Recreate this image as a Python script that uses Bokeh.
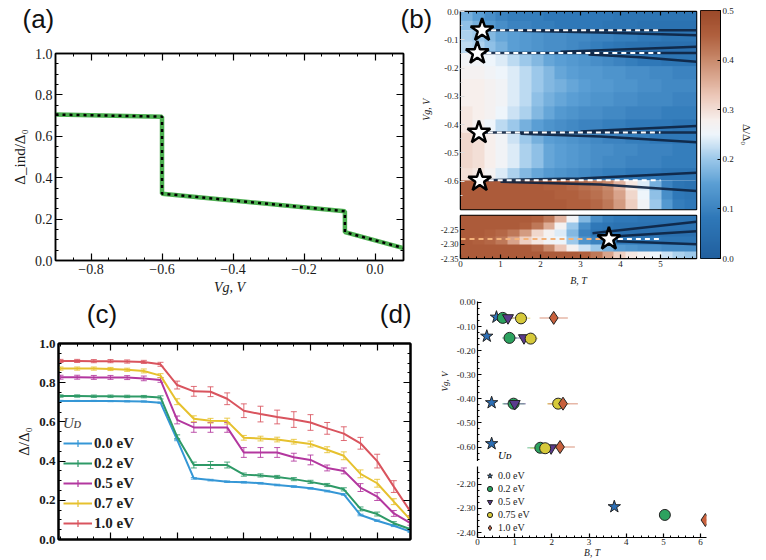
import numpy as np
from bokeh.plotting import figure
from bokeh.models import (ColumnDataSource, LinearAxis, Range1d, SingleIntervalTicker, FixedTicker,
                          Legend, LegendItem, Whisker, TeeHead, LinearColorMapper,
                          CustomJSTickFormatter)
from bokeh.layouts import row, column
from bokeh.embed import file_html
from bokeh.resources import INLINE
from bokeh.core.properties import value

SERIF = "Liberation Serif"
SANS = "Liberation Sans"

# ---------------- data ----------------
# (a) induced gap vs gate voltage
a_vg = [-0.9, -0.6, -0.6, -0.085, -0.085, 0.08]
a_gap = [0.705, 0.695, 0.323, 0.238, 0.137, 0.06]

# (b) gap map; each band: rows from top to bottom, 20 columns over B = 0 .. 5.9 T
heat_B = [0.0, 5.9]
heat_up_edges = [0.0, -0.066, -0.147, -0.428, -0.597, -0.70]
heat_band1 = [
    [0.17, 0.15, 0.12, 0.10, 0.09, 0.09, 0.09, 0.08, 0.08, 0.08, 0.08, 0.08, 0.08, 0.07, 0.07, 0.07, 0.07, 0.07, 0.07, 0.07],
    [0.19, 0.17, 0.14, 0.12, 0.10, 0.10, 0.09, 0.09, 0.08, 0.08, 0.08, 0.08, 0.07, 0.07, 0.07, 0.06, 0.06, 0.06, 0.06, 0.06],
]
heat_band2 = [
    [0.21, 0.20, 0.18, 0.16, 0.15, 0.14, 0.13, 0.12, 0.12, 0.11, 0.11, 0.10, 0.10, 0.09, 0.09, 0.08, 0.08, 0.07, 0.07, 0.07],
    [0.22, 0.21, 0.19, 0.17, 0.15, 0.14, 0.13, 0.12, 0.12, 0.11, 0.10, 0.09, 0.08, 0.07, 0.06, 0.06, 0.05, 0.05, 0.05, 0.05],
]
heat_band3 = [
    [0.26, 0.26, 0.25, 0.24, 0.22, 0.20, 0.18, 0.16, 0.15, 0.14, 0.13, 0.12, 0.11, 0.10, 0.09, 0.08, 0.08, 0.07, 0.07, 0.07],
    [0.27, 0.27, 0.26, 0.25, 0.24, 0.22, 0.20, 0.18, 0.16, 0.15, 0.14, 0.14, 0.13, 0.13, 0.12, 0.12, 0.11, 0.11, 0.10, 0.10],
    [0.28, 0.28, 0.27, 0.26, 0.24, 0.22, 0.20, 0.18, 0.17, 0.16, 0.15, 0.14, 0.14, 0.13, 0.13, 0.12, 0.12, 0.11, 0.11, 0.11],
    [0.28, 0.28, 0.27, 0.26, 0.24, 0.22, 0.19, 0.17, 0.16, 0.15, 0.14, 0.13, 0.13, 0.12, 0.12, 0.11, 0.11, 0.11, 0.10, 0.10],
    [0.29, 0.28, 0.27, 0.25, 0.23, 0.21, 0.18, 0.16, 0.14, 0.13, 0.12, 0.12, 0.11, 0.11, 0.10, 0.10, 0.10, 0.09, 0.09, 0.09],
    [0.29, 0.27, 0.25, 0.22, 0.20, 0.17, 0.15, 0.13, 0.12, 0.11, 0.10, 0.10, 0.09, 0.09, 0.08, 0.08, 0.08, 0.08, 0.07, 0.07],
]
heat_band4 = [
    [0.31, 0.30, 0.28, 0.26, 0.23, 0.20, 0.17, 0.15, 0.14, 0.13, 0.12, 0.11, 0.10, 0.10, 0.09, 0.09, 0.08, 0.08, 0.08, 0.08],
    [0.31, 0.30, 0.28, 0.26, 0.24, 0.21, 0.19, 0.16, 0.15, 0.14, 0.13, 0.12, 0.12, 0.11, 0.11, 0.10, 0.10, 0.10, 0.09, 0.09],
    [0.31, 0.30, 0.28, 0.26, 0.24, 0.21, 0.19, 0.16, 0.15, 0.14, 0.13, 0.12, 0.11, 0.11, 0.10, 0.10, 0.10, 0.09, 0.09, 0.09],
    [0.30, 0.29, 0.27, 0.24, 0.21, 0.18, 0.16, 0.14, 0.13, 0.12, 0.11, 0.10, 0.09, 0.09, 0.08, 0.08, 0.08, 0.07, 0.07, 0.07],
]
heat_band5 = [
    [0.46, 0.46, 0.46, 0.46, 0.46, 0.46, 0.46, 0.45, 0.45, 0.44, 0.43, 0.42, 0.40, 0.35, 0.29, 0.24, 0.17, 0.10, 0.07, 0.06],
    [0.46, 0.46, 0.46, 0.46, 0.46, 0.46, 0.46, 0.46, 0.45, 0.45, 0.44, 0.43, 0.41, 0.37, 0.31, 0.25, 0.19, 0.12, 0.08, 0.07],
    [0.46, 0.46, 0.46, 0.46, 0.46, 0.46, 0.46, 0.46, 0.46, 0.45, 0.45, 0.44, 0.42, 0.38, 0.32, 0.26, 0.20, 0.14, 0.09, 0.08],
]
heat_low_edges = [-2.20, -2.35]
heat_low_band = [
    [0.46, 0.46, 0.46, 0.46, 0.46, 0.46, 0.45, 0.42, 0.35, 0.26, 0.18, 0.12, 0.09, 0.08, 0.08, 0.07, 0.07, 0.07, 0.07, 0.07],
    [0.46, 0.46, 0.46, 0.46, 0.46, 0.45, 0.42, 0.36, 0.27, 0.20, 0.12, 0.08, 0.07, 0.06, 0.06, 0.06, 0.06, 0.06, 0.06, 0.06],
    [0.46, 0.46, 0.45, 0.44, 0.42, 0.38, 0.31, 0.27, 0.24, 0.18, 0.10, 0.07, 0.06, 0.05, 0.05, 0.05, 0.05, 0.05, 0.05, 0.05],
    [0.46, 0.45, 0.44, 0.42, 0.37, 0.32, 0.29, 0.26, 0.25, 0.20, 0.13, 0.10, 0.09, 0.08, 0.08, 0.08, 0.08, 0.07, 0.07, 0.07],
    [0.46, 0.46, 0.46, 0.46, 0.46, 0.46, 0.44, 0.40, 0.33, 0.27, 0.23, 0.20, 0.17, 0.14, 0.13, 0.12, 0.12, 0.11, 0.11, 0.11],
    [0.46, 0.46, 0.46, 0.46, 0.46, 0.46, 0.46, 0.46, 0.46, 0.46, 0.45, 0.42, 0.37, 0.32, 0.29, 0.27, 0.25, 0.23, 0.21, 0.20],
]

b_star_B = [0.54, 0.42, 0.46, 0.48]
b_star_V = [-0.066, -0.147, -0.428, -0.597]
b_star_low_B = [3.71]
b_star_low_V = [-2.282]
b_dash_end = 5.0

b_dark_B = [[0.55, 5.9], [1.5, 3.5, 5.9], [0.45, 5.9], [3.2, 4.5, 5.9], [2.5, 5.9],
            [0.5, 5.9], [1.5, 3.5, 5.9], [3.0, 5.9], [0.5, 3.0, 5.9], [1.0, 3.5, 5.9]]
b_dark_V = [[-0.066, -0.066], [-0.068, -0.074, -0.084], [-0.147, -0.147], [-0.152, -0.162, -0.178],
            [-0.142, -0.125], [-0.428, -0.428], [-0.432, -0.442, -0.462], [-0.424, -0.405],
            [-0.597, -0.590, -0.570], [-0.602, -0.612, -0.635]]
b_dark_low_B = [[3.3, 5.9], [3.9, 5.9], [3.9, 5.9]]
b_dark_low_V = [[-2.262, -2.222], [-2.272, -2.255], [-2.290, -2.300]]

# (c) gap vs gate voltage for several U_D
c_vg = [-0.95, -0.90, -0.85, -0.80, -0.75, -0.70, -0.65, -0.60, -0.55, -0.50, -0.45,
        -0.40, -0.35, -0.30, -0.25, -0.20, -0.15, -0.10, -0.05, 0.00, 0.05, 0.10]
c_labels = ["0.0 eV", "0.2 eV", "0.5 eV", "0.7 eV", "1.0 eV"]
c_u00 = [0.707, 0.707, 0.707, 0.706, 0.705, 0.704, 0.698, 0.508, 0.312, 0.303, 0.295,
         0.292, 0.287, 0.278, 0.270, 0.261, 0.247, 0.230, 0.125, 0.096, 0.070, 0.040]
c_u02 = [0.732, 0.732, 0.731, 0.731, 0.730, 0.729, 0.725, 0.524, 0.380, 0.380, 0.380,
         0.331, 0.327, 0.319, 0.308, 0.294, 0.278, 0.256, 0.156, 0.130, 0.083, 0.052]
c_u05 = [0.828, 0.828, 0.827, 0.827, 0.826, 0.822, 0.814, 0.610, 0.572, 0.572, 0.572,
         0.444, 0.444, 0.444, 0.420, 0.406, 0.365, 0.350, 0.265, 0.219, 0.133, 0.083]
c_u07 = [0.872, 0.872, 0.872, 0.870, 0.866, 0.860, 0.836, 0.703, 0.616, 0.606, 0.604,
         0.519, 0.515, 0.510, 0.499, 0.487, 0.458, 0.427, 0.335, 0.287, 0.193, 0.100]
c_u10 = [0.911, 0.911, 0.910, 0.910, 0.908, 0.906, 0.894, 0.788, 0.756, 0.754, 0.718,
         0.657, 0.640, 0.625, 0.612, 0.597, 0.567, 0.540, 0.491, 0.400, 0.270, 0.142]
c_e00 = [0.003, 0.003, 0.003, 0.003, 0.003, 0.003, 0.003, 0.004, 0.004, 0.004, 0.004,
         0.004, 0.004, 0.004, 0.004, 0.004, 0.004, 0.004, 0.004, 0.004, 0.004, 0.004]
c_e02 = [0.006, 0.006, 0.006, 0.006, 0.006, 0.006, 0.008, 0.010, 0.015, 0.018, 0.015,
         0.008, 0.008, 0.008, 0.008, 0.008, 0.008, 0.008, 0.010, 0.010, 0.008, 0.006]
c_e05 = [0.010, 0.010, 0.010, 0.010, 0.010, 0.012, 0.012, 0.020, 0.025, 0.025, 0.025,
         0.025, 0.025, 0.025, 0.020, 0.025, 0.015, 0.015, 0.020, 0.020, 0.015, 0.010]
c_e07 = [0.008, 0.008, 0.008, 0.008, 0.008, 0.010, 0.010, 0.015, 0.015, 0.012, 0.015,
         0.012, 0.012, 0.012, 0.012, 0.015, 0.015, 0.020, 0.020, 0.020, 0.015, 0.012]
c_e10 = [0.008, 0.008, 0.008, 0.008, 0.008, 0.008, 0.010, 0.020, 0.025, 0.025, 0.030,
         0.035, 0.040, 0.035, 0.040, 0.040, 0.030, 0.035, 0.030, 0.035, 0.030, 0.020]
c_colors = ["#3597d6", "#2e9a67", "#b3379f", "#e6c12e", "#d9545e"]

# (d) critical fields (one list per U_D, both axis segments)
d_labels = ["0.0 eV", "0.2 eV", "0.5 eV", "0.75 eV", "1.0 eV"]
d_B_00 = [0.51, 0.25, 0.38, 0.38, 3.68]
d_V_00 = [-0.061, -0.140, -0.416, -0.586, -2.293]
d_e_00 = [0.10, 0.10, 0.10, 0.10, 0.10]
d_B_02 = [0.68, 0.86, 0.97, 1.69, 5.04]
d_V_02 = [-0.064, -0.147, -0.420, -0.603, -2.327]
d_e_02 = [0.25, 0.20, 0.30, 0.35, 0.12]
d_B_05 = [0.82, 1.25, 1.00, 1.98]
d_V_05 = [-0.064, -0.147, -0.420, -0.604]
d_e_05 = [0.20, 0.25, 0.30, 0.30]
d_B_075 = [1.17, 1.43, 2.17, 1.82]
d_V_075 = [-0.066, -0.150, -0.420, -0.605]
d_e_075 = [0.25, 0.20, 0.30, 0.40]
d_B_10 = [2.05, 2.30, 2.22, 6.13]
d_V_10 = [-0.064, -0.420, -0.600, -2.348]
d_e_10 = [0.38, 0.40, 0.40, 0.10]
d_colors = ["#2c6fb6", "#2ca25f", "#5b3a8c", "#d6c93a", "#c8603c"]
d_markers = ["star", "circle", "inverted_triangle", "circle", "diamond"]
d_sizes = [13, 11, 11, 11, 13]

# ---------------- helpers ----------------
MINUS = CustomJSTickFormatter(code="return tick.toFixed(1).replace('-', '\\u2212')")
BLANK = CustomJSTickFormatter(code="return ''")


def fmt(n):
    return CustomJSTickFormatter(code="return tick.toFixed(%d)" % n)


def axstyle(ax, size="14px", labels=True, tick_in=7, minor_in=3, lw=1.5, standoff=3):
    ax.major_tick_in = tick_in
    ax.major_tick_out = 0
    ax.minor_tick_in = minor_in
    ax.minor_tick_out = 0
    ax.axis_line_color = "black"
    ax.axis_line_width = lw
    ax.major_tick_line_width = 1.2
    ax.minor_tick_line_width = 1
    ax.major_tick_line_color = "black"
    ax.minor_tick_line_color = "black"
    ax.major_label_text_font = SERIF
    ax.major_label_text_color = "#1a1a1a"
    if labels:
        ax.major_label_text_font_size = size
        ax.major_label_standoff = standoff
    else:
        ax.formatter = BLANK
        ax.major_label_text_font_size = "1px"
        ax.major_label_standoff = 0
    ax.axis_label_text_font = SERIF
    ax.axis_label_text_font_style = "normal"
    ax.axis_label_text_color = "#1a1a1a"


def base(fig):
    fig.xgrid.visible = False
    fig.ygrid.visible = False
    fig.background_fill_color = "white"
    fig.border_fill_color = "white"
    return fig


def strip(width, height, xs, ys, texts, size, font=SANS, style="normal", angle=0.0,
          align="left", baseline="top"):
    s = figure(width=width, height=height, x_range=Range1d(0, width), y_range=Range1d(height, 0),
               x_axis_location=None, y_axis_location=None, output_backend="svg",
               toolbar_location=None, min_border=0)
    base(s)
    s.outline_line_color = None
    s.text(x=xs, y=ys, text=texts, text_font=value(font), text_font_size=value(size),
           text_font_style=style, angle=angle, text_align=align, text_baseline=baseline,
           text_color="#111111")
    return s


# ---------------- panel (a) ----------------
pa = base(figure(width=405, height=258, x_range=Range1d(-0.9, 0.08), y_range=Range1d(0, 1),
                 output_backend="svg", toolbar_location=None,
                 min_border_left=55, min_border_right=2, min_border_top=13, min_border_bottom=38))
pa.outline_line_color = "black"
pa.outline_line_width = 1.5
xt_a = SingleIntervalTicker(interval=0.2, num_minor_ticks=4)
yt_a = SingleIntervalTicker(interval=0.2, num_minor_ticks=4)
pa.xaxis.ticker = xt_a
pa.yaxis.ticker = yt_a
pa.xaxis.formatter = MINUS
pa.yaxis.formatter = fmt(1)
for ax in pa.xaxis + pa.yaxis:
    axstyle(ax)
pa.xaxis.axis_label = "Vg, V"
pa.xaxis.axis_label_text_font_style = "italic"
pa.xaxis.axis_label_standoff = 3
pa.xaxis.axis_label_text_font_size = "14px"
pa.yaxis.axis_label = "Δ_ind/Δ₀"
pa.yaxis.axis_label_text_font_size = "15px"
pa.yaxis.axis_label_standoff = 4
top_a = LinearAxis(ticker=xt_a)
right_a = LinearAxis(ticker=yt_a)
axstyle(top_a, labels=False)
axstyle(right_a, labels=False)
pa.add_layout(top_a, "above")
pa.add_layout(right_a, "right")
pa.line(a_vg, a_gap, line_color="#4caf50", line_width=4.5)
pa.line(a_vg, a_gap, line_color="black", line_width=2.5, line_dash="3 4")

strip_a = strip(437, 40, [22, 400], [3, 3], ["(a)", "(b)"], "26px")
strip_bv = strip(32, 258, [21], [70], ["Vg, V"], "10px", font=SERIF, style="italic",
                 angle=np.pi / 2, align="center", baseline="middle")

# ---------------- panel (b) ----------------
cmap_pos = [0.0, 0.08, 0.15, 0.20, 0.25, 0.28, 0.33, 0.40, 0.45, 0.50]
cmap_hex = ["#21609f", "#2f78b8", "#5b9fd4", "#9cc8ea", "#eef5fb", "#f7efec", "#ecc6b6",
            "#c98a6c", "#b0603e", "#9c4a2a"]
rgb = np.array([[int(h[i:i + 2], 16) for i in (1, 3, 5)] for h in cmap_hex])
grid_t = np.linspace(0.0, 0.5, 256)
palette = ["#%02x%02x%02x" % tuple(int(round(np.interp(t, cmap_pos, rgb[:, k]))) for k in range(3))
           for t in grid_t]
mapper = LinearColorMapper(palette=palette, low=0.0, high=0.5)

hb_up = base(figure(width=261, height=212, x_range=Range1d(*heat_B),
                    y_range=Range1d(heat_up_edges[-1], heat_up_edges[0]),
                    x_axis_location="above", output_backend="svg", toolbar_location=None,
                    min_border_left=23, min_border_right=2, min_border_top=11, min_border_bottom=3))
hb_up.outline_line_color = "black"
hb_up.outline_line_width = 1.5
hb_up.xaxis.ticker = SingleIntervalTicker(interval=1, num_minor_ticks=5)
hb_up.yaxis.ticker = SingleIntervalTicker(interval=0.1, num_minor_ticks=2)
hb_up.yaxis.formatter = fmt(1)
axstyle(hb_up.xaxis[0], labels=False, tick_in=4, minor_in=2, lw=1)
axstyle(hb_up.yaxis[0], size="9px", tick_in=4, minor_in=2, lw=1, standoff=2)
hb_up.yaxis.major_tick_line_color = "#dddddd"
hb_up.yaxis.minor_tick_line_color = "#dddddd"
for top, bot, rows in zip(heat_up_edges[:-1], heat_up_edges[1:],
                          [heat_band1, heat_band2, heat_band3, heat_band4, heat_band5]):
    hb_up.image(image=[np.flipud(np.array(rows))], x=heat_B[0], y=bot,
                dw=heat_B[1] - heat_B[0], dh=top - bot, color_mapper=mapper)
hb_up.multi_line(b_dark_B, b_dark_V, line_color="#0d2240", line_width=2.5, line_alpha=0.9)
hb_up.multi_line([[b, b_dash_end] for b in b_star_B], [[v, v] for v in b_star_V],
                 line_color="white", line_width=2, line_dash="5 4")
hb_up.scatter(b_star_B, b_star_V, marker="star", size=24, fill_color="white",
              line_color="black", line_width=2.5)

hb_low = base(figure(width=261, height=86, x_range=Range1d(*heat_B),
                     y_range=Range1d(heat_low_edges[1], heat_low_edges[0]),
                     output_backend="svg", toolbar_location=None,
                     min_border_left=23, min_border_right=2, min_border_top=3, min_border_bottom=40))
hb_low.outline_line_color = "black"
hb_low.outline_line_width = 1.5
hb_low.xaxis.ticker = SingleIntervalTicker(interval=1, num_minor_ticks=5)
hb_low.yaxis.ticker = FixedTicker(ticks=[-2.25, -2.30, -2.35])
hb_low.yaxis.formatter = fmt(2)
axstyle(hb_low.xaxis[0], size="9px", tick_in=4, minor_in=2, lw=1, standoff=2)
axstyle(hb_low.yaxis[0], size="8.5px", tick_in=4, minor_in=2, lw=1, standoff=2)
hb_low.xaxis.axis_label = "B, T"
hb_low.xaxis.axis_label_text_font_style = "italic"
hb_low.xaxis.axis_label_text_font_size = "10px"
hb_low.xaxis.axis_label_standoff = 5
hb_low.image(image=[np.flipud(np.array(heat_low_band))], x=heat_B[0], y=heat_low_edges[1],
             dw=heat_B[1] - heat_B[0], dh=heat_low_edges[0] - heat_low_edges[1], color_mapper=mapper)
hb_low.multi_line(b_dark_low_B, b_dark_low_V, line_color="#0d2240", line_width=2.5, line_alpha=0.9)
hb_low.line([heat_B[0], b_star_low_B[0]], [b_star_low_V[0], b_star_low_V[0]],
            line_color="#f3b27a", line_width=2, line_dash="5 4")
hb_low.line([b_star_low_B[0], b_dash_end], [b_star_low_V[0], b_star_low_V[0]],
            line_color="white", line_width=2, line_dash="5 4")
hb_low.scatter(b_star_low_B, b_star_low_V, marker="star", size=24, fill_color="white",
               line_color="black", line_width=2.5)

cb = base(figure(width=68, height=298, x_range=Range1d(0, 1), y_range=Range1d(0, 0.5),
                 x_axis_location=None, y_axis_location="right", output_backend="svg",
                 toolbar_location=None, min_border_left=2, min_border_right=46,
                 min_border_top=10, min_border_bottom=40))
cb.outline_line_color = "black"
cb.outline_line_width = 1
cb.image(image=[grid_t.reshape(-1, 1)], x=0, y=0, dw=1, dh=0.5, color_mapper=mapper)
cb.yaxis.ticker = SingleIntervalTicker(interval=0.1, num_minor_ticks=1)
cb.yaxis.formatter = fmt(1)
axstyle(cb.yaxis[0], size="9px", tick_in=3, minor_in=0, lw=1, standoff=2)
cb.yaxis.axis_label = "Δ/Δ₀"
cb.yaxis.axis_label_text_font_size = "11px"
cb.yaxis.axis_label_standoff = 4

# ---------------- panel (c) ----------------
pc = base(figure(width=436, height=227, x_range=Range1d(-0.956, 0.1), y_range=Range1d(0, 1),
                 output_backend="svg", toolbar_location=None,
                 min_border_left=58, min_border_right=26, min_border_top=10, min_border_bottom=21))
pc.outline_line_color = "black"
pc.outline_line_width = 2
xt_c = SingleIntervalTicker(interval=0.2, num_minor_ticks=4)
yt_c = SingleIntervalTicker(interval=0.2, num_minor_ticks=4)
pc.xaxis.ticker = xt_c
pc.yaxis.ticker = yt_c
pc.yaxis.formatter = fmt(1)
axstyle(pc.xaxis[0], labels=False, lw=2)
axstyle(pc.yaxis[0], size="13px", lw=2)
pc.yaxis.major_label_text_font_style = "bold"
pc.yaxis.axis_label = "Δ/Δ₀"
pc.yaxis.axis_label_text_font_size = "15px"
pc.yaxis.axis_label_standoff = 4
top_c = LinearAxis(ticker=xt_c)
right_c = LinearAxis(ticker=yt_c)
axstyle(top_c, labels=False, lw=2)
axstyle(right_c, labels=False, lw=2)
pc.add_layout(top_c, "above")
pc.add_layout(right_c, "right")

c_items = []
for lab, ys, es, col in zip(c_labels, [c_u00, c_u02, c_u05, c_u07, c_u10],
                            [c_e00, c_e02, c_e05, c_e07, c_e10], c_colors):
    src = ColumnDataSource(dict(x=c_vg, y=ys, upper=[y + e for y, e in zip(ys, es)],
                                lower=[y - e for y, e in zip(ys, es)]))
    pc.add_layout(Whisker(base="x", upper="upper", lower="lower", source=src, line_color=col,
                          line_width=1, line_alpha=0.85,
                          upper_head=TeeHead(size=6, line_color=col, line_width=1, line_alpha=0.85),
                          lower_head=TeeHead(size=6, line_color=col, line_width=1, line_alpha=0.85)))
    lr = pc.line("x", "y", source=src, line_color=col, line_width=2)
    er = pc.scatter("x", "y", source=src, marker="cross", size=0, line_color=col, line_width=1.2)
    c_items.append(LegendItem(label=lab, renderers=[lr, er]))
leg_c = Legend(items=c_items, location=(5, 7), title="Uᴅ", title_text_font=SERIF,
               title_text_font_style="italic", title_text_font_size="15px", title_standoff=2,
               label_text_font=SERIF, label_text_font_size="15px", label_text_font_style="bold",
               label_text_color="#222222", glyph_width=29, glyph_height=18, label_height=18,
               label_standoff=2, spacing=2, padding=5, margin=0,
               border_line_color=None, background_fill_alpha=0)
pc.add_layout(leg_c)

strip_c = strip(436, 35, [35, 398], [0, 0], ["(c)", "(d)"], "26px")

# ---------------- panel (d) ----------------
pd_up = base(figure(width=330, height=163, x_range=Range1d(0, 6.16), y_range=Range1d(-0.660, 0.004),
                    x_axis_location=None, output_backend="svg", toolbar_location=None,
                    min_border_left=36, min_border_right=60, min_border_top=3, min_border_bottom=0))
pd_up.outline_line_color = None
pd_up.yaxis.ticker = SingleIntervalTicker(interval=0.1, num_minor_ticks=4)
pd_up.yaxis.formatter = fmt(2)
axstyle(pd_up.yaxis[0], size="9px", tick_in=4, minor_in=2, lw=1.2, standoff=2)
pd_up.yaxis.axis_label = "Vg, V"
pd_up.yaxis.axis_label_text_font_size = "9px"
pd_up.yaxis.axis_label_text_font_style = "italic"
pd_up.yaxis.axis_label_standoff = 4

pd_low = base(figure(width=330, height=99, x_range=Range1d(0, 6.16), y_range=Range1d(-2.4204, -2.1265),
                     output_backend="svg", toolbar_location=None,
                     min_border_left=36, min_border_right=60, min_border_top=5, min_border_bottom=22))
pd_low.outline_line_color = None
pd_low.xaxis.ticker = SingleIntervalTicker(interval=1, num_minor_ticks=5)
pd_low.yaxis.ticker = SingleIntervalTicker(interval=0.1, num_minor_ticks=4)
pd_low.yaxis.formatter = fmt(2)
axstyle(pd_low.xaxis[0], size="9px", tick_in=4, minor_in=2, lw=1.2, standoff=1)
axstyle(pd_low.yaxis[0], size="9px", tick_in=4, minor_in=2, lw=1.2, standoff=2)
pd_low.xaxis.axis_label = "B, T"
pd_low.xaxis.axis_label_text_font_size = "9.5px"
pd_low.xaxis.axis_label_text_font_style = "italic"
pd_low.xaxis.axis_label_standoff = 0

d_sets = [(d_B_00, d_V_00, d_e_00), (d_B_02, d_V_02, d_e_02), (d_B_05, d_V_05, d_e_05),
          (d_B_075, d_V_075, d_e_075), (d_B_10, d_V_10, d_e_10)]
d_items = []
for fig in (pd_up, pd_low):
    for (bs, vs, es), col in zip(d_sets, d_colors):
        fig.segment([b - e for b, e in zip(bs, es)], vs, [b + e for b, e in zip(bs, es)], vs,
                    line_color=col, line_width=1.5, line_alpha=0.45)
    for (bs, vs, es), col, mk, sz, lab in zip(d_sets, d_colors, d_markers, d_sizes, d_labels):
        r = fig.scatter(bs, vs, marker=mk, size=sz, fill_color=col, line_color="#222222", line_width=1)
        if fig is pd_low:
            d_items.append(LegendItem(label=lab, renderers=[r]))
pd_up.text(x=[0.55], y=[-0.635], text=["Uᴅ"], text_font=value(SERIF), text_font_style="italic",
           text_font_size=value("11px"), text_baseline="middle", text_align="left")
leg_d = Legend(items=d_items, location=(6, 3), label_text_font=SERIF, label_text_font_size="10px",
               label_text_color="#222222", glyph_width=13, glyph_height=13, label_height=13,
               label_standoff=2, spacing=0, padding=2, margin=0,
               border_line_color=None, background_fill_alpha=0)
pd_low.add_layout(leg_d)

layout = column(
    row(column(strip_a, row(pa, strip_bv)), column(hb_up, hb_low), cb),
    row(column(strip_c, pc), column(pd_up, pd_low)),
)
open("out.html", "w").write(file_html(layout, INLINE))
